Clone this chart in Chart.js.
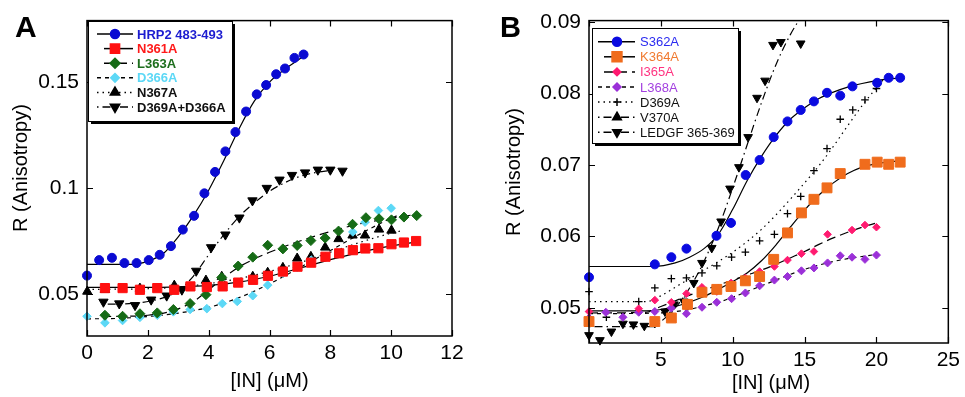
<!DOCTYPE html>
<html><head><meta charset="utf-8">
<script src="https://cdn.jsdelivr.net/npm/chart.js@4.4.1/dist/chart.umd.min.js"></script>
<style>
html,body{margin:0;padding:0;background:#fff;}
#wrap{position:relative;width:965px;height:397px;overflow:hidden;}
#ca{position:absolute;left:0;top:0;}
#cb{position:absolute;left:480px;top:0;}
</style></head><body>
<div id="wrap"><canvas id="ca" width="480" height="397"></canvas><canvas id="cb" width="485" height="397"></canvas></div>
<script>
// ---------------- Panel A data ----------------
const aXTicks = [0, 2, 4, 6, 8, 10, 12];
const aXTickLabels = ['0', '2', '4', '6', '8', '10', '12'];
const aYTicks = [0.05, 0.1, 0.15];
const aYTickLabels = ['0.05', '0.1', '0.15'];
const aLabels = ['HRP2 483-493', 'N361A', 'L363A', 'D366A', 'N367A', 'D369A+D366A'];

const hrpX = [0, 0.40, 0.82, 1.23, 1.63, 2.03, 2.39, 2.76, 3.15, 3.52, 3.86, 4.21, 4.55, 4.88, 5.23, 5.58, 5.89, 6.22, 6.51, 6.82, 7.12];
const hrpY = [0.0587, 0.066, 0.0671, 0.0646, 0.0646, 0.066, 0.0685, 0.0726, 0.0804, 0.0869, 0.0975, 0.1076, 0.1173, 0.1264, 0.1361, 0.1442, 0.1486, 0.1537, 0.1564, 0.1614, 0.163];
const hrpFitX = [0, 1.5, 2, 2.5, 3, 3.5, 4, 4.5, 5, 5.5, 6, 6.5, 7, 7.2];
const hrpFitY = [0.064, 0.064, 0.0655, 0.069, 0.077, 0.087, 0.099, 0.113, 0.128, 0.141, 0.150, 0.156, 0.161, 0.163];

const n361X = [0.59, 1.17, 1.74, 2.31, 2.87, 3.40, 3.94, 4.46, 4.97, 5.46, 5.95, 6.44, 6.92, 7.37, 7.84, 8.29, 8.74, 9.15, 9.58, 10.01, 10.42, 10.82];
const n361Y = [0.0528, 0.0528, 0.052, 0.0528, 0.052, 0.0536, 0.0533, 0.0536, 0.0554, 0.0567, 0.0586, 0.0606, 0.0629, 0.0648, 0.0676, 0.0692, 0.0707, 0.0715, 0.0716, 0.0735, 0.0743, 0.075];
const n361FitX = [0, 2, 3, 4, 5, 6, 7, 8, 9, 10, 10.8];
const n361FitY = [0.0531, 0.0531, 0.0534, 0.0541, 0.0556, 0.0584, 0.0622, 0.0662, 0.0698, 0.0727, 0.0745];

const l363X = [0.59, 1.17, 1.74, 2.31, 2.84, 3.39, 3.91, 4.43, 4.97, 5.45, 5.94, 6.44, 6.91, 7.36, 7.83, 8.27, 8.73, 9.17, 9.6, 10.01, 10.42, 10.84];
const l363Y = [0.040, 0.0395, 0.0407, 0.0411, 0.0427, 0.0455, 0.0497, 0.0578, 0.0632, 0.0674, 0.073, 0.0713, 0.0729, 0.0752, 0.0764, 0.0797, 0.0829, 0.086, 0.0855, 0.085, 0.0863, 0.087];
const l363FitX = [0.5, 2, 2.8, 3.5, 4, 4.5, 5, 5.5, 6, 7, 8, 9, 10, 10.8];
const l363FitY = [0.0393, 0.0400, 0.0420, 0.0465, 0.052, 0.0578, 0.0628, 0.0665, 0.0697, 0.0750, 0.0795, 0.0832, 0.0858, 0.0875];

const d366X = [0, 0.59, 1.17, 1.74, 2.31, 2.84, 3.39, 3.94, 4.45, 4.94, 5.45, 5.94, 6.44, 6.91, 7.37, 8.74, 9.14, 9.58, 10.0];
const d366Y = [0.0395, 0.0364, 0.0375, 0.039, 0.040, 0.0416, 0.0427, 0.0431, 0.0455, 0.0465, 0.0492, 0.0542, 0.0598, 0.0626, 0.066, 0.0793, 0.0839, 0.0894, 0.0905];
const d366FitX = [0, 1, 2, 3, 4, 5, 6, 7, 8, 9, 10, 10.2];
const d366FitY = [0.0383, 0.0385, 0.0394, 0.041, 0.0437, 0.0483, 0.0548, 0.0625, 0.0705, 0.0785, 0.0858, 0.087];

const n367X = [0.01, 0.59, 1.74, 2.87, 3.91, 4.43, 5.45, 5.94, 6.44, 6.91, 7.36, 7.83, 8.27, 8.73, 9.14, 9.6, 10.01];
const n367Y = [0.0512, 0.052, 0.0526, 0.054, 0.0564, 0.0582, 0.0582, 0.0601, 0.0624, 0.0668, 0.0676, 0.072, 0.076, 0.0777, 0.0777, 0.0805, 0.080];
const n367FitX = [0, 2, 3, 4, 5, 6, 7, 8, 9, 10, 10.3];
const n367FitY = [0.0522, 0.0525, 0.0533, 0.0549, 0.0573, 0.0607, 0.0648, 0.0697, 0.0745, 0.0787, 0.0797];

const dd369X = [0.54, 1.06, 1.58, 2.11, 2.62, 3.12, 3.59, 4.08, 4.55, 5.01, 5.44, 5.91, 6.33, 6.74, 7.17, 7.59, 8.0, 8.4];
const dd369Y = [0.0463, 0.0455, 0.0447, 0.0473, 0.0492, 0.052, 0.0609, 0.072, 0.078, 0.086, 0.0941, 0.1, 0.1039, 0.1061, 0.1073, 0.1086, 0.1086, 0.1081];
const dd369FitX = [0.5, 1.5, 2.5, 3, 3.5, 4, 4.5, 5, 5.5, 6, 6.5, 7, 7.5, 8];
const dd369FitY = [0.0452, 0.0456, 0.0482, 0.0515, 0.0585, 0.0685, 0.078, 0.0865, 0.093, 0.0985, 0.1025, 0.1055, 0.1073, 0.1083];

// ---------------- Panel B data ----------------
const bXTicks = [0, 5, 10, 15, 20, 25];
const bXTickLabels = ['', '5', '10', '15', '20', '25'];
const bYTicks = [0.05, 0.06, 0.07, 0.08, 0.09];
const bYTickLabels = ['0.05', '0.06', '0.07', '0.08', '0.09'];
const bLabels = ['S362A', 'K364A', 'I365A', 'L368A', 'D369A', 'V370A', 'LEDGF 365-369'];

const s362X = [0, 4.58, 5.73, 6.78, 8.87, 9.88, 10.9, 11.87, 12.85, 13.81, 14.73, 15.65, 16.56, 17.48, 18.33, 20.05, 20.85, 21.65];
const s362Y = [0.0543, 0.0561, 0.0571, 0.0583, 0.0601, 0.0619, 0.0686, 0.0707, 0.0739, 0.0761, 0.0777, 0.0789, 0.0801, 0.0797, 0.081, 0.0815, 0.0822, 0.0822];
const s362FitX = [0, 4.5, 6, 7, 8, 9, 10, 11, 12, 13, 14, 15, 16, 17, 18, 19, 20, 21.6];
const s362FitY = [0.0558, 0.0558, 0.0563, 0.0571, 0.0583, 0.0603, 0.0638, 0.0678, 0.0712, 0.0741, 0.0764, 0.078, 0.0793, 0.0802, 0.0809, 0.0814, 0.0818, 0.0822];

const k364X = [0, 4.58, 5.73, 6.85, 7.86, 8.89, 9.88, 10.88, 11.87, 12.85, 13.81, 14.78, 15.65, 16.56, 17.48, 19.2, 20.05, 20.85, 21.65];
const k364Y = [0.0481, 0.0481, 0.0486, 0.0505, 0.0522, 0.0526, 0.053, 0.0538, 0.0544, 0.0568, 0.0605, 0.0633, 0.0652, 0.0668, 0.0688, 0.0701, 0.0704, 0.0701, 0.0704];
const k364FitX = [0, 4, 6, 8, 9, 10, 11, 12, 13, 14, 15, 16, 17, 18, 19, 20, 21.7];
const k364FitY = [0.0496, 0.0496, 0.0502, 0.0516, 0.0526, 0.0537, 0.0549, 0.0566, 0.0588, 0.0613, 0.0637, 0.0658, 0.0675, 0.0688, 0.0697, 0.0702, 0.0706];

const i365X = [0, 3.46, 4.58, 5.73, 6.78, 7.86, 8.89, 9.88, 10.88, 11.87, 12.9, 13.81, 14.78, 15.65, 16.6, 18.3, 19.2, 20.0];
const i365Y = [0.0495, 0.0499, 0.0511, 0.0508, 0.052, 0.0529, 0.0523, 0.0535, 0.0542, 0.0551, 0.0558, 0.0567, 0.0576, 0.0579, 0.0603, 0.0609, 0.0616, 0.0613];
const i365FitX = [0, 4, 5, 6, 7, 8, 9, 10, 11, 12, 13, 14, 15, 16, 17, 18, 19, 20];
const i365FitY = [0.0493, 0.0494, 0.0502, 0.051, 0.0518, 0.0525, 0.0532, 0.0539, 0.0546, 0.0553, 0.0561, 0.057, 0.0579, 0.0589, 0.0598, 0.0606, 0.0613, 0.0619];

const l368X = [0, 1.17, 2.36, 3.46, 4.58, 5.73, 6.78, 7.86, 8.89, 9.92, 10.88, 11.87, 12.9, 13.81, 14.78, 15.65, 16.6, 17.48, 18.3, 19.2, 20.0];
const l368Y = [0.0486, 0.0494, 0.0487, 0.0494, 0.0495, 0.05, 0.0492, 0.0501, 0.0508, 0.0513, 0.0521, 0.0531, 0.0539, 0.0544, 0.0552, 0.0556, 0.0563, 0.0573, 0.0571, 0.0568, 0.0574];
const l368FitX = [0, 5, 6, 7, 8, 9, 10, 11, 12, 13, 14, 15, 16, 17, 18, 19, 20];
const l368FitY = [0.0492, 0.0493, 0.0495, 0.0498, 0.0503, 0.0508, 0.0515, 0.0523, 0.0531, 0.0539, 0.0547, 0.0554, 0.056, 0.0565, 0.0569, 0.0572, 0.0575];

const d369X = [0, 1.21, 3.46, 4.58, 5.73, 6.78, 7.86, 8.89, 9.92, 10.88, 11.87, 12.9, 13.81, 14.73, 15.65, 16.56, 17.48, 18.35, 19.2, 20.0];
const d369Y = [0.0523, 0.0487, 0.0509, 0.0528, 0.0541, 0.0542, 0.0549, 0.0559, 0.0571, 0.0578, 0.0594, 0.0603, 0.0632, 0.0656, 0.0692, 0.0723, 0.0764, 0.0777, 0.0791, 0.0807];
const d369FitX = [0, 4, 5, 6, 7, 8, 9, 10, 11, 12, 13, 14, 15, 16, 17, 18, 19, 20, 20.5];
const d369FitY = [0.0509, 0.0509, 0.0517, 0.0529, 0.0541, 0.0553, 0.0565, 0.0578, 0.0593, 0.061, 0.063, 0.0652, 0.0675, 0.0699, 0.0726, 0.0755, 0.0783, 0.0808, 0.082];

const v370X = [];
const v370Y = [];

const ledgfX = [0, 0.76, 1.56, 2.36, 3.09, 3.85, 4.58, 5.29, 5.91, 6.6, 7.29, 7.86, 8.54, 9.19, 9.81, 10.43, 11.07, 11.69, 12.25, 12.8, 13.35, 14.73];
const ledgfY = [0.0462, 0.0455, 0.0467, 0.0478, 0.0477, 0.0475, 0.0479, 0.0495, 0.0505, 0.0509, 0.0535, 0.0563, 0.0584, 0.0621, 0.0667, 0.0697, 0.0739, 0.0794, 0.0818, 0.0868, 0.0872, 0.087];
const ledgfFitX = [0, 4.5, 5, 6, 7, 8, 9, 10, 11, 12, 13, 14, 15];
const ledgfFitY = [0.0474, 0.0474, 0.0481, 0.05, 0.0528, 0.0565, 0.0612, 0.0668, 0.0728, 0.0787, 0.084, 0.0882, 0.0915];

// ---------------- styling ----------------
const FONT = "'Liberation Sans', Arial, Helvetica, sans-serif";
const SOLID = [], LONGDASH = [9, 5], SHORTDASH = [4, 4], DOTTED = [1.5, 4], DASHDOT = [1.5, 4, 8, 4];

const aSeries = [
  {label: aLabels[0], x: hrpX, y: hrpY, fx: hrpFitX, fy: hrpFitY, color: '#0a0ad2', text: '#1c1cd0', style: 'circle', r: 4.5, rot: 0, dash: SOLID, l0: 97},
  {label: aLabels[1], x: n361X, y: n361Y, fx: n361FitX, fy: n361FitY, color: '#ff1010', text: '#ff1a1a', style: 'rect', r: 6.5, rot: 0, dash: SOLID, l0: 104},
  {label: aLabels[2], x: l363X, y: l363Y, fx: l363FitX, fy: l363FitY, color: '#166b16', text: '#1d6e1d', style: 'rectRot', r: 5, rot: 0, dash: LONGDASH, l0: 104},
  {label: aLabels[3], x: d366X, y: d366Y, fx: d366FitX, fy: d366FitY, color: '#5cd8f6', text: '#5cd8f6', style: 'rectRot', r: 4.3, rot: 0, dash: SHORTDASH, l0: 97},
  {label: aLabels[4], x: n367X, y: n367Y, fx: n367FitX, fy: n367FitY, color: '#000000', text: '#111111', style: 'triangle', r: 5.4, rot: 0, dash: DOTTED, l0: 97},
  {label: aLabels[5], x: dd369X, y: dd369Y, fx: dd369FitX, fy: dd369FitY, color: '#000000', text: '#111111', style: 'triangle', r: 5.4, rot: 180, dash: DASHDOT, l0: 97}
];

const bSeries = [
  {label: bLabels[0], x: s362X, y: s362Y, fx: s362FitX, fy: s362FitY, color: '#0a0ae0', text: '#2a2af0', style: 'circle', r: 4.5, rot: 0, dash: SOLID, l0: 598},
  {label: bLabels[1], x: k364X, y: k364Y, fx: k364FitX, fy: k364FitY, color: '#f06c1c', text: '#f07a30', style: 'rect', r: 7, rot: 0, dash: SOLID, l0: 604},
  {label: bLabels[2], x: i365X, y: i365Y, fx: i365FitX, fy: i365FitY, color: '#ff1a70', text: '#ff3380', style: 'rectRot', r: 3.8, rot: 0, dash: LONGDASH, l0: 604},
  {label: bLabels[3], x: l368X, y: l368Y, fx: l368FitX, fy: l368FitY, color: '#9b30d8', text: '#a340e0', style: 'rectRot', r: 4, rot: 0, dash: SHORTDASH, l0: 598},
  {label: bLabels[4], x: d369X, y: d369Y, fx: d369FitX, fy: d369FitY, color: '#000000', text: '#111111', style: 'cross', r: 3.8, rot: 0, dash: DOTTED, l0: 598},
  {label: bLabels[5], x: v370X, y: v370Y, fx: [], fy: [], color: '#000000', text: '#111111', style: 'triangle', r: 5, rot: 0, dash: DASHDOT, l0: 598},
  {label: bLabels[6], x: ledgfX, y: ledgfY, fx: ledgfFitX, fy: ledgfFitY, color: '#000000', text: '#111111', style: 'triangle', r: 5, rot: 180, dash: DASHDOT, l0: 598}
];

function pts(xs, ys) { return xs.map((v, i) => ({x: v, y: ys[i]})); }

function buildDatasets(series) {
  const ds = [];
  series.forEach(s => {
    ds.push({
      label: s.label + ' fit', data: pts(s.fx, s.fy), borderColor: '#000', borderWidth: 1.2,
      borderDash: s.dash, pointRadius: 0, fill: false, tension: 0.4,
      cubicInterpolationMode: 'monotone', order: 2
    });
    ds.push({
      label: s.label, data: pts(s.x, s.y), showLine: false,
      pointStyle: s.style, pointRadius: s.r, pointRotation: s.rot,
      pointBackgroundColor: s.color, pointBorderColor: s.color,
      pointBorderWidth: s.style === 'cross' ? 1.3 : 1, clip: false, order: 1
    });
  });
  return ds;
}

function decoPlugin(cfg) {
  return {
    id: 'deco',
    afterDraw(chart) {
      const ctx = chart.ctx, ca = chart.chartArea, xs = chart.scales.x, ys = chart.scales.y;
      ctx.save();
      ctx.setLineDash([]);
      ctx.strokeStyle = '#000';
      ctx.lineWidth = 1.5;
      ctx.strokeRect(ca.left, ca.top, ca.right - ca.left, ca.bottom - ca.top);
      ctx.lineWidth = 1.2;
      ctx.beginPath();
      xs.ticks.forEach(t => {
        const p = Math.round(xs.getPixelForValue(t.value)) + 0.5;
        ctx.moveTo(p, ca.bottom); ctx.lineTo(p, ca.bottom - 6);
        ctx.moveTo(p, ca.top); ctx.lineTo(p, ca.top + 6);
      });
      ys.ticks.forEach(t => {
        const p = Math.round(ys.getPixelForValue(t.value)) + 0.5;
        ctx.moveTo(ca.left, p); ctx.lineTo(ca.left + 6, p);
        ctx.moveTo(ca.right, p); ctx.lineTo(ca.right - 6, p);
      });
      ctx.stroke();
      const L = cfg.legend;
      ctx.fillStyle = '#000';
      ctx.fillRect(L.x + 3, L.y + 3, L.w, L.h);
      ctx.fillStyle = '#fff';
      ctx.fillRect(L.x, L.y, L.w, L.h);
      ctx.strokeStyle = '#000';
      ctx.lineWidth = 1;
      ctx.strokeRect(L.x + 0.5, L.y + 0.5, L.w, L.h);
      cfg.series.forEach((s, i) => {
        const yy = L.row0 + i * L.step;
        ctx.save();
        ctx.strokeStyle = '#000';
        ctx.lineWidth = 1.5;
        ctx.setLineDash(s.dash);
        ctx.beginPath();
        ctx.moveTo(s.l0 - L.off, yy); ctx.lineTo(L.x1, yy);
        ctx.stroke();
        ctx.setLineDash([]);
        ctx.fillStyle = s.color; ctx.strokeStyle = s.color;
        Chart.helpers.drawPoint(ctx, {pointStyle: s.style, rotation: s.rot, radius: s.r, borderWidth: s.style === 'cross' ? 1.3 : 1}, L.mx, yy);
        ctx.restore();
        ctx.fillStyle = s.text;
        ctx.font = L.font;
        ctx.textAlign = 'left';
        ctx.textBaseline = 'middle';
        ctx.fillText(s.label, L.tx, yy + 1);
      });
      ctx.fillStyle = '#000';
      ctx.font = cfg.letter.font;
      ctx.textAlign = 'left';
      ctx.textBaseline = 'alphabetic';
      ctx.fillText(cfg.letter.text, cfg.letter.x, cfg.letter.y);
      ctx.font = '20px ' + FONT;
      ctx.textAlign = 'center';
      ctx.textBaseline = 'middle';
      ctx.fillText('[IN] (\u03bcM)', cfg.xTitle.x, cfg.xTitle.y);
      ctx.save();
      ctx.translate(cfg.yTitle.x, cfg.yTitle.y);
      ctx.rotate(-Math.PI / 2);
      ctx.fillText('R (Anisotropy)', 0, 0);
      ctx.restore();
      ctx.restore();
    }
  };
}

function build(id, cfg) {
  return new Chart(document.getElementById(id), {
    type: 'line',
    data: {datasets: buildDatasets(cfg.series)},
    options: {
      responsive: false, animation: false, devicePixelRatio: 1,
      layout: {padding: cfg.padding},
      plugins: {legend: {display: false}, tooltip: {enabled: false}, title: {display: false}},
      scales: {
        x: {
          type: 'linear', min: cfg.xMin, max: cfg.xMax,
          grid: {display: false, drawTicks: false}, border: {display: false},
          afterBuildTicks: sc => { sc.ticks = cfg.xTicks.map(v => ({value: v})); },
          afterFit: sc => { sc.height = cfg.xH; },
          ticks: {
            autoSkip: false, maxRotation: 0, padding: cfg.xPad, color: '#000',
            font: {family: FONT, size: 21},
            callback: (v) => { const k = cfg.xTicks.indexOf(v); return k >= 0 ? cfg.xLabels[k] : ''; }
          }
        },
        y: {
          type: 'linear', min: cfg.yMin, max: cfg.yMax,
          grid: {display: false, drawTicks: false}, border: {display: false},
          afterBuildTicks: sc => { sc.ticks = cfg.yTicks.map(v => ({value: v})); },
          afterFit: sc => { sc.width = cfg.yW; },
          ticks: {
            autoSkip: false, padding: 8, color: '#000',
            font: {family: FONT, size: 21},
            callback: (v) => { const k = cfg.yTicks.findIndex(t => Math.abs(t - v) < 1e-9); return k >= 0 ? cfg.yLabels[k] : ''; }
          }
        }
      }
    },
    plugins: [decoPlugin(cfg)]
  });
}

build('ca', {
  series: aSeries, xMin: 0, xMax: 12, yMin: 0.0302, yMax: 0.179,
  xTicks: aXTicks, xLabels: aXTickLabels, yTicks: aYTicks, yLabels: aYTickLabels,
  padding: {top: 16, right: 28, bottom: 0, left: 0}, yW: 87, xH: 61, xPad: 5,
  legend: {x: 88, y: 21, w: 144, h: 100, row0: 34, step: 14.6, off: 0, x1: 133, mx: 115, tx: 137, font: 'bold 13px ' + FONT},
  letter: {text: 'A', x: 15, y: 37, font: 'bold 30px ' + FONT},
  xTitle: {x: 269.5, y: 381}, yTitle: {x: 21, y: 168}
});

build('cb', {
  series: bSeries, xMin: 0, xMax: 25, yMin: 0.0451, yMax: 0.0902,
  xTicks: bXTicks, xLabels: bXTickLabels, yTicks: bYTicks, yLabels: bYTickLabels,
  padding: {top: 20, right: 12, bottom: 0, left: 0}, yW: 109, xH: 54, xPad: 5,
  legend: {x: 112, y: 28, w: 146, h: 115, row0: 41.7, step: 15.1, off: 480, x1: 155, mx: 137, tx: 160, font: '13px ' + FONT},
  letter: {text: 'B', x: 20, y: 37, font: 'bold 29px ' + FONT},
  xTitle: {x: 291, y: 383}, yTitle: {x: 34, y: 172}
});
</script>
</body></html>
